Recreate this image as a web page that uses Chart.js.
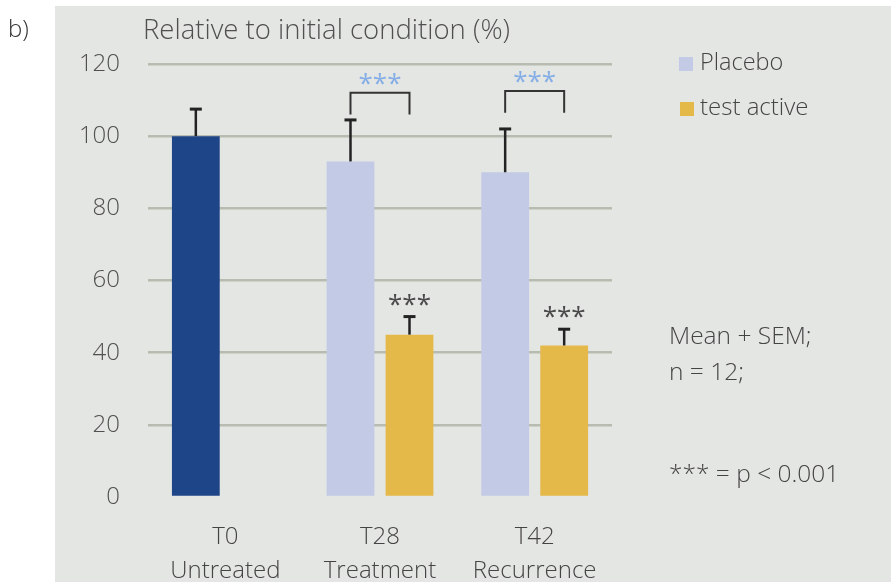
<!DOCTYPE html>
<html>
<head>
<meta charset="utf-8">
<script src="https://cdn.jsdelivr.net/npm/chart.js@4"></script>
<style>
  body { margin: 0; background: #fff; width: 891px; height: 582px; overflow: hidden; position: relative; font-family: "Open Sans", sans-serif; }
  #panel { position: absolute; left: 55px; top: 6px; width: 836px; height: 576px; background: #e4e6e3; }
  #wrap { position: absolute; left: 0; top: 0; width: 891px; height: 582px; }
  .txt { position: absolute; white-space: nowrap; line-height: 1; color: #444; font-size: 24px; font-weight: 300; }
  .sw { position: absolute; width: 14px; height: 14px; }
</style>
</head>
<body>
<div id="panel"></div>
<div id="wrap"><canvas id="chart" width="891" height="582"></canvas></div>
<div class="txt" style="left:8px;top:16px;color:#333;">b)</div>
<div class="txt" style="left:143px;top:15px;font-size:27.5px;color:#505050;">Relative to initial condition (%)</div>
<div class="sw" style="left:679px;top:57px;background:#c3cae5;"></div>
<div class="txt" style="left:700px;top:50px;font-size:23.5px;">Placebo</div>
<div class="sw" style="left:680px;top:102px;background:#e5b84a;"></div>
<div class="txt" style="left:700px;top:94px;font-size:24px;">test active</div>
<div class="txt" style="left:669px;top:323px;font-size:24.5px;">Mean + SEM;</div>
<div class="txt" style="left:669px;top:359px;font-size:24.5px;">n = 12;</div>
<div class="txt" style="left:669px;top:461px;font-size:24.5px;">*** = p &lt; 0.001</div>
<script>
const categories = [['T0', 'Untreated'], ['T28', 'Treatment'], ['T42', 'Recurrence']];
const placeboValues = [100, 93, 90];
const placeboSem = [7.5, 11.5, 12];
const activeValues = [null, 45, 42];
const activeSem = [null, 5, 4.5];
const placeboColors = ['#1e4588', '#c3cae5', '#c3cae5'];
const activeColor = '#e5b84a';
const activeStars = [null, '***', '***'];
const bracketStars = [null, '***', '***'];
const bracketTop = [null, 112, 112.5];
const bracketLeg = [null, 106, 106.5];
const yTicks = [0, 20, 40, 60, 80, 100, 120];

// error bars, brackets and star marks on top of the bars
const annotations = {
    id: 'annotations',
    afterDatasetsDraw(chart) {
        const ctx = chart.ctx;
        const y = chart.scales.y;
        const metaP = chart.getDatasetMeta(0);
        const metaA = chart.getDatasetMeta(1);
        ctx.save();
        ctx.strokeStyle = '#222';
        ctx.lineWidth = 2.5;
        const errBar = (bar, value, sem) => {
            const top = y.getPixelForValue(value + sem);
            ctx.beginPath();
            ctx.moveTo(bar.x, bar.y);
            ctx.lineTo(bar.x, top);
            ctx.stroke();
            ctx.lineWidth = 3;
            ctx.beginPath();
            ctx.moveTo(bar.x - 6, top);
            ctx.lineTo(bar.x + 6, top);
            ctx.stroke();
            ctx.lineWidth = 2.5;
            return top;
        };
        ctx.font = '26px "Open Sans"';
        ctx.textAlign = 'center';
        ctx.textBaseline = 'alphabetic';
        placeboValues.forEach((v, i) => {
            if (v !== null && placeboSem[i] !== null) errBar(metaP.data[i], v, placeboSem[i]);
        });
        activeValues.forEach((v, i) => {
            if (v === null || activeSem[i] === null) return;
            const top = errBar(metaA.data[i], v, activeSem[i]);
            if (activeStars[i]) {
                ctx.fillStyle = '#4a4a4a';
                ctx.fillText(activeStars[i], metaA.data[i].x, top - 4);
            }
        });
        ctx.strokeStyle = '#333';
        ctx.lineWidth = 2;
        bracketTop.forEach((b, i) => {
            if (b === null) return;
            const x1 = metaP.data[i].x, x2 = metaA.data[i].x;
            const yt = y.getPixelForValue(b), yl = y.getPixelForValue(bracketLeg[i]);
            ctx.beginPath();
            ctx.moveTo(x1, yl);
            ctx.lineTo(x1, yt);
            ctx.lineTo(x2, yt);
            ctx.lineTo(x2, yl);
            ctx.stroke();
            ctx.fillStyle = '#86aee6';
            ctx.fillText(bracketStars[i], (x1 + x2) / 2, yt - 1);
        });
        ctx.restore();
    }
};

new Chart(document.getElementById('chart'), {
    type: 'bar',
    data: {
        labels: categories,
        datasets: [{
            label: 'Placebo',
            data: placeboValues,
            backgroundColor: placeboColors,
            categoryPercentage: 0.763,
            barPercentage: 0.81
        }, {
            label: 'test active',
            data: activeValues,
            backgroundColor: activeColor,
            categoryPercentage: 0.763,
            barPercentage: 0.81
        }]
    },
    options: {
        responsive: false,
        animation: false,
        devicePixelRatio: 1,
        layout: { padding: { top: 64, right: 279, left: 0, bottom: 0 } },
        plugins: { legend: { display: false }, tooltip: { enabled: false } },
        scales: {
            x: {
                grid: { display: false },
                border: { display: false },
                ticks: { color: '#444', font: { family: 'Open Sans', size: 24, weight: 300, lineHeight: 1.38 }, padding: 16 },
                afterFit: s => { s.height = 85; }
            },
            y: {
                min: 0,
                max: 120,
                afterBuildTicks: s => { s.ticks = yTicks.map(v => ({ value: v })); },
                grid: {
                    color: c => c.tick.value === 0 ? 'rgba(0,0,0,0)' : '#b7bbb0',
                    lineWidth: 2.5,
                    drawTicks: false
                },
                border: { display: false },
                ticks: { color: '#505050', font: { family: 'Open Sans', size: 24, weight: 300 }, padding: 28 },
                afterFit: s => { s.width = 148; }
            }
        }
    },
    plugins: [annotations]
});
</script>
</body>
</html>
